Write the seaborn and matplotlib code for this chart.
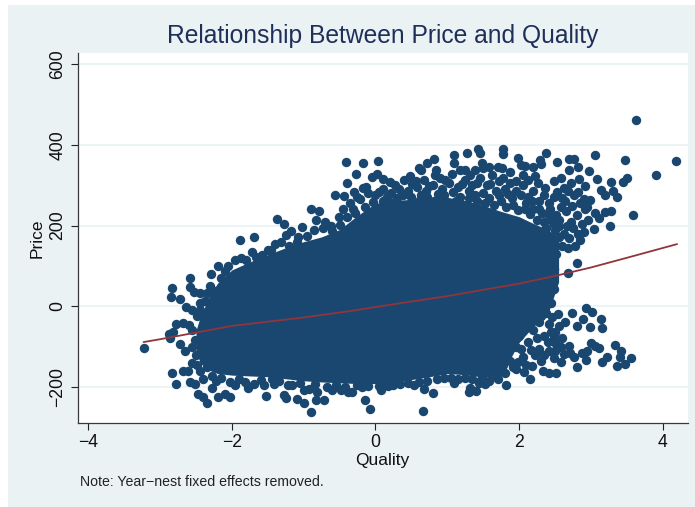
import matplotlib.pyplot as plt
import numpy as np
import pandas as pd
import seaborn as sns
from matplotlib.patches import Rectangle

NAVY = '#1a476f'
MAROON = '#90353b'
BG = '#eaf2f3'

# points, (quality, price), by region
upper_right = [
    (3.63, 462), (4.19, 360), (3.91, 325), (3.47, 362), (3.06, 374), (3.50, 318), (3.45, 308), (3.58, 226),
    (3.27, 200), (3.28, 308), (3.31, 286), (3.37, 270), (3.20, 233), (3.28, 236), (3.09, 316), (2.98, 336),
    (2.92, 297), (2.83, 316), (2.82, 345), (2.76, 364), (2.69, 366), (2.70, 339), (2.53, 358), (2.59, 318),
    (2.63, 294), (2.53, 284), (2.64, 261), (2.77, 277), (2.99, 264), (3.14, 289), (3.20, 277), (2.90, 183),
    (3.04, 191), (3.11, 218), (3.06, 230), (2.38, 381), (2.29, 362), (2.30, 352), (2.19, 346), (1.98, 368),
    (2.02, 350), (2.08, 348), (1.77, 391), (1.77, 377), (1.76, 342), (1.88, 332), (1.43, 391), (1.46, 380),
    (1.27, 379), (1.10, 374), (1.10, 354), (0.82, 364), (0.72, 354), (0.60, 342), (0.63, 337), (1.48, 354),
    (1.50, 342), (1.38, 339), (1.25, 338), (1.18, 338), (1.06, 328), (0.84, 338), (0.83, 325), (0.67, 313),
    (0.56, 311), (0.40, 313), (0.20, 307), (0.11, 316), (0.04, 361), (-0.17, 355), (0.02, 329), (-0.05, 320),
    (-0.27, 327), (-0.30, 284), (-0.17, 294),
]
upper_fill = [
    (2.85, 255), (2.92, 240), (2.80, 225), (2.72, 210), (2.88, 205), (2.96, 215), (2.65, 235), (2.58, 245),
    (2.48, 270), (2.42, 255), (2.35, 275), (2.28, 262), (2.20, 285), (2.12, 270), (2.05, 300), (1.95, 285),
    (1.88, 305), (1.80, 290), (1.72, 310), (1.62, 325), (1.55, 300), (1.45, 318), (1.35, 300), (1.25, 312),
    (1.15, 295), (1.02, 305), (0.92, 290), (0.80, 300), (0.70, 285), (0.58, 295), (0.45, 285), (0.33, 290),
    (0.22, 280), (0.10, 290), (0.00, 275), (-0.10, 280), (-0.22, 265), (-0.36, 255), (2.75, 195), (2.62, 180),
    (2.70, 170), (2.85, 165), (2.78, 150), (2.60, 150), (2.52, 130), (2.46, 105), (2.38, 120), (2.55, 200),
    (2.45, 215), (2.32, 230), (2.20, 240),
    (-0.26, 272), (-0.13, 296), (0.05, 282), (0.16, 270), (0.27, 300), (0.38, 276), (0.51, 302), (0.63, 276),
    (0.74, 298), (0.87, 278), (0.97, 312), (1.08, 284), (1.20, 302), (1.30, 285), (1.41, 305), (1.50, 280),
    (1.60, 302), (1.68, 285), (1.78, 318), (1.85, 278), (1.96, 310), (2.02, 275), (2.12, 312), (2.18, 262),
    (2.27, 305), (2.36, 292), (2.43, 240), (2.52, 225), (2.60, 268), (2.68, 285), (2.74, 248), (2.82, 282),
    (2.90, 265), (2.66, 200), (2.56, 172), (2.48, 160), (2.68, 145), (2.82, 180), (2.95, 245), (2.72, 305),
    (0.10, 262), (0.30, 268), (0.50, 272), (0.72, 272), (0.95, 276), (1.18, 272), (1.38, 275), (1.58, 268),
    (1.75, 262), (1.92, 252), (2.08, 242), (2.25, 215), (2.38, 195), (2.50, 190), (2.05, 325), (1.58, 345),
    (1.32, 325), (0.48, 322), (0.90, 318), (1.70, 345), (2.22, 322), (2.48, 310),
    (1.42, 262), (1.52, 255), (1.65, 250), (1.72, 275), (1.82, 245), (1.90, 268), (1.98, 238), (2.10, 255),
    (2.15, 228), (2.28, 240), (2.34, 210), (2.40, 228), (2.48, 205), (2.56, 215), (1.12, 262), (0.82, 262),
    (0.60, 262), (0.20, 258), (-0.04, 258), (-0.15, 245), (-0.28, 232), (1.30, 268),
]
upper_left = [
    (-0.41, 357), (-0.39, 305), (-0.56, 277), (-0.44, 273), (-0.45, 240), (-0.51, 220), (-0.90, 240),
    (-0.79, 237), (-0.83, 215), (-1.37, 217), (-1.28, 203), (-1.17, 187), (-1.03, 196), (-1.69, 172),
    (-1.89, 163), (-1.25, 177), (-0.73, 193), (-0.60, 187), (-1.40, 155), (-1.96, 114), (-1.67, 122),
    (-1.58, 126), (-1.20, 150), (-0.95, 175), (-0.70, 210), (-1.50, 140), (-1.80, 115), (-2.05, 100),
    (-0.50, 202), (-0.40, 222), (-0.32, 240), (-0.62, 200), (-0.85, 190), (-1.08, 172), (-1.32, 160),
    (-1.45, 140), (-1.72, 135), (-1.88, 120), (-2.10, 88), (-2.38, 12), (-2.28, 40), (-2.48, -25),
    (-2.55, -60), (-2.52, -85), (-1.10, 160),
]
lower_left = [
    (-3.23, -103), (-2.20, 100), (-2.29, 79), (-2.58, 71), (-2.59, 48), (-2.84, 44), (-2.85, 22), (-2.72, 18),
    (-2.53, 36), (-2.44, 32), (-2.35, 32), (-2.64, -3), (-2.56, -10), (-2.44, 8), (-2.78, -43), (-2.68, -41),
    (-2.88, -70), (-2.82, -64), (-2.86, -80), (-2.72, -93), (-2.65, -111), (-2.56, -101), (-2.44, -85),
    (-2.60, -47), (-2.84, -165), (-2.68, -161), (-2.61, -160), (-2.78, -193), (-2.59, -187), (-2.51, -193),
    (-2.40, -181), (-2.47, -219), (-2.40, -226), (-2.35, -240), (-2.27, -203), (-2.19, -225), (-2.10, -218),
    (-2.03, -225), (-1.78, -202), (-1.69, -192), (-2.02, -188), (-2.28, -173), (-2.48, -146), (-1.52, -223),
    (-1.28, -221), (-1.25, -227), (-1.10, -229), (-1.00, -208), (-1.00, -240), (-0.90, -262), (-0.83, -233),
    (-0.72, -233), (-0.82, -212), (-0.61, -208), (-0.48, -207), (-0.38, -212), (-1.42, -193), (-1.16, -196),
    (-1.44, -180), (-0.84, -192), (-2.15, 70), (-2.30, 50), (-2.45, -10), (-2.50, -120), (-2.35, -150),
    (-2.15, -178), (-1.90, -180), (-1.60, -182),
    (-2.22, -185), (-1.95, -195), (-1.82, -188), (-1.55, -195), (-1.35, -185), (-1.22, -195), (-1.05, -190),
    (-0.92, -205), (-0.68, -200), (-0.55, -195), (-0.42, -200), (-2.45, -160), (-2.55, -140),
]
lower_right = [
    (-0.08, -255), (-0.15, -232), (-0.33, -212), (-0.19, -200), (-0.26, -196), (0.08, -208), (0.17, -198),
    (0.34, -193), (0.54, -196), (0.68, -206), (0.80, -215), (0.66, -260), (1.10, -190), (1.30, -212),
    (1.40, -211), (1.31, -203), (1.44, -190), (1.82, -196), (2.15, -180), (2.52, -165), (2.41, -165),
    (2.33, -161), (2.80, -150), (2.93, -134), (3.15, -138), (3.22, -127), (3.36, -148), (3.47, -144),
    (3.56, -128), (3.40, -126), (3.42, -112), (3.34, -96), (3.11, -103), (3.06, -99), (3.00, -92), (2.95, -110),
    (2.87, -115), (2.77, -126), (2.69, -99), (2.71, -117), (2.58, -138), (2.48, -128), (2.18, -149),
    (2.07, -163), (1.96, -157), (3.15, -53), (3.14, -33), (3.02, -14), (2.93, -4), (2.99, -51), (2.89, -32),
    (2.80, -49), (2.73, -18), (2.64, -39), (2.54, -20), (2.50, -63), (2.44, 8), (2.34, 8), (2.49, 42),
    (2.46, 64), (2.49, 93), (2.68, 83), (2.80, 106), (2.33, 52), (2.15, 3),
]
lower_fill = [
    (2.42, -45), (2.35, -75), (2.28, -105), (2.20, -60), (2.12, -90), (2.05, -125), (1.95, -100), (1.88, -135),
    (1.80, -165), (1.70, -180), (1.58, -185), (1.48, -178), (2.30, -25), (2.20, -20), (2.52, -95), (2.42, -110),
    (2.30, -135), (2.55, -50), (2.38, 30), (2.42, 75), (2.30, 85),
    (2.48, -78), (2.58, -100), (2.60, -78), (2.62, -118), (2.50, -110), (2.40, -88), (2.34, -120), (2.25, -80),
    (2.22, -120), (2.16, -108), (2.10, -145), (2.02, -105), (1.98, -138), (1.92, -150), (1.85, -110), (1.78, -145),
    (1.72, -160), (1.65, -172), (1.58, -160), (1.52, -192), (1.45, -185), (1.35, -180), (1.25, -178), (1.15, -180),
    (1.05, -178), (0.95, -178), (0.85, -180), (0.72, -185), (0.60, -188), (0.45, -190), (0.25, -195), (0.05, -198),
    (-0.10, -198), (0.12, -192), (2.38, -18), (2.46, -28), (2.44, -65), (2.28, -40), (2.16, -40), (2.08, -50),
    (2.00, -75), (1.90, -70), (2.25, 20), (2.40, 52),
]

# edges of the solid mass in the middle
core_quality = [-2.50, -2.44, -2.30, -2.20, -2.00, -1.75, -1.50, -1.25, -1.00, -0.75, -0.50, -0.25, 0.00, 0.25,
                0.50, 0.75, 1.00, 1.25, 1.50, 1.75, 2.00, 2.20, 2.40, 2.55]
core_top = [-60, -26, 30, 57, 90, 110, 128, 145, 160, 172, 190, 225, 255, 262, 265, 268, 270, 262, 250, 235, 222,
            205, 190, 170]
core_bottom = [-110, -142, -160, -167, -171, -173, -175, -180, -185, -188, -190, -192, -192, -188, -182, -175,
               -167, -170, -176, -172, -90, -50, -20, 60]

# fitted line
fit_quality = [-3.23, -3.0, -2.0, -1.0, -0.35, 0.0, 1.0, 2.0, 2.5, 3.0, 3.5, 4.2]
fit_price = [-89, -82, -49, -28, -12, -2, 25, 56, 75, 96, 120, 154]

x_ticks = [-4, -2, 0, 2, 4]
y_ticks = [-200, 0, 200, 400, 600]

points = upper_right + upper_fill + upper_left + lower_left + lower_right + lower_fill
df = pd.DataFrame(points, columns=['Quality', 'Price'])
fit = pd.DataFrame({'Quality': fit_quality, 'Price': fit_price})

sns.set_style('white')
plt.rcParams['font.family'] = ['Liberation Sans', 'DejaVu Sans']

W, H = 695, 507
fig = plt.figure(figsize=(W / 100, H / 100), dpi=100, facecolor='white')
fig.add_artist(Rectangle((8 / W, 0), (W - 8) / W, (H - 5) / H, transform=fig.transFigure, color=BG, lw=0, zorder=-5))
ax = fig.add_axes([77.5 / W, 1 - 422.7 / H, (688 - 77.5) / W, (422.7 - 53) / H])
ax.set_facecolor('white')

ax.fill_between(core_quality, core_bottom, core_top, color=NAVY, lw=0, zorder=2)
sns.scatterplot(data=df, x='Quality', y='Price', color=NAVY, s=46, linewidth=0, ax=ax, zorder=3)
sns.lineplot(data=fit, x='Quality', y='Price', color=MAROON, lw=1.3, ax=ax, zorder=4)

ax.set_xlim(-4.15, 4.352)
ax.set_ylim(-289, 628)
ax.set_xticks(x_ticks)
ax.set_yticks(y_ticks)
ax.yaxis.grid(True, color=BG, lw=1.2, zorder=0)
ax.xaxis.grid(False)
ax.set_axisbelow(True)

sns.despine(ax=ax)
for side in ['left', 'bottom']:
    ax.spines[side].set_color('#3a3a3a')
    ax.spines[side].set_linewidth(0.9)
ax.tick_params(axis='both', direction='out', length=5, width=0.8, color='#222222', labelsize=12.7,
               labelcolor='#111111', left=True, bottom=True, pad=3)
plt.setp(ax.get_yticklabels(), rotation=90, va='center')

ax.set_xlabel('')
ax.set_ylabel('')
fig.text(382.5 / W, 1 - 36 / H, 'Relationship Between Price and Quality', fontsize=17.75, color='#1e2f5a', ha='center', va='center')
fig.text(382 / W, 1 - 460 / H, 'Quality', fontsize=12.5, color='#111111', ha='center', va='center')
fig.text(37 / W, 1 - 238 / H, 'Price', fontsize=12.5, color='#111111', rotation=90, ha='center', va='center')
fig.text(80 / W, 1 - 482 / H, 'Note: Year\u2212nest fixed effects removed.', fontsize=10.2, color='#222222', ha='left', va='center')

fig.savefig('out.png', dpi=100)
